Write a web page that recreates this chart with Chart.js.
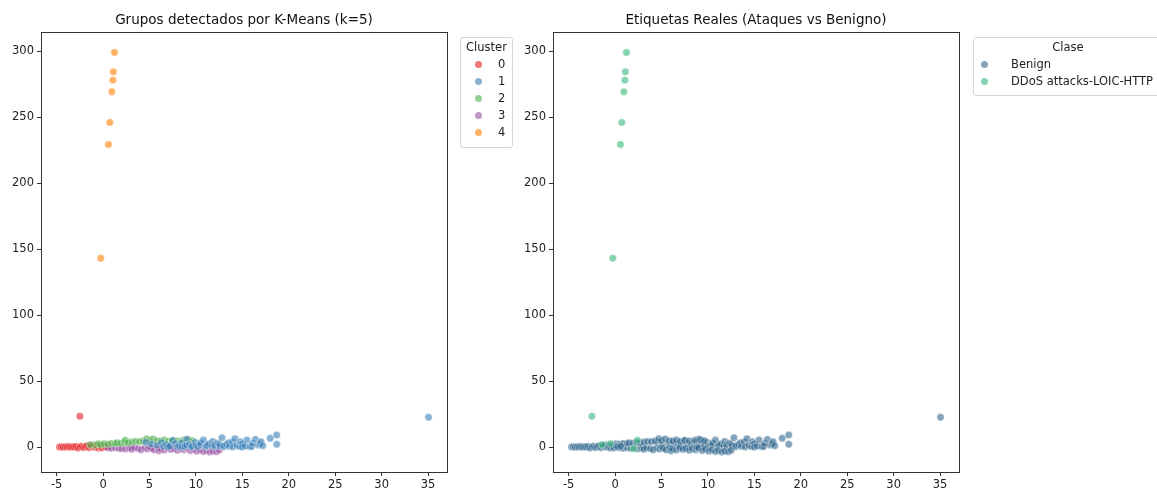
<!DOCTYPE html>
<html>
<head>
<meta charset="utf-8">
<script src="https://cdn.jsdelivr.net/npm/chart.js@4/dist/chart.umd.min.js"></script>
<style>
  html, body { margin:0; padding:0; background:#fff; width:1157px; height:493px; overflow:hidden; font-family:"DejaVu Sans", sans-serif; }
  canvas { position:absolute; top:0; }
  .legend { position:absolute; background:rgba(255,255,255,0.8); border:1px solid #d6d6d6; border-radius:3px; box-sizing:border-box; color:#222; font-size:11.5px; }
  .legend .ttl { position:absolute; left:0; right:0; text-align:center; }
  .legend .row { position:absolute; white-space:nowrap; }
  .legend .dot { position:absolute; width:7px; height:7px; border-radius:50%; }
</style>
</head>
<body>
<canvas id="left" width="488" height="493" style="left:0px;width:488px;height:493px"></canvas>
<canvas id="right" width="488" height="493" style="left:512px;width:488px;height:493px"></canvas>
<div id="legL" class="legend" style="left:460px;top:37px;width:53px;height:111px"></div>
<div id="legR" class="legend" style="left:973px;top:37px;width:190px;height:59px"></div>
<script>
// ---------- DATA ----------
const titleLeft = "Grupos detectados por K-Means (k=5)";
const titleRight = "Etiquetas Reales (Ataques vs Benigno)";
const clusterLegendTitle = "Cluster";
const classLegendTitle = "Clase";
const clusterNames = ["0", "1", "2", "3", "4"];
const classNames = ["Benign", "DDoS attacks-LOIC-HTTP"];
const xTicks = [-5, 0, 5, 10, 15, 20, 25, 30, 35];
const yTicks = [0, 50, 100, 150, 200, 250, 300];

// points: [x, y, classIndex]  (0 = Benign, 1 = DDoS attacks-LOIC-HTTP)
const cluster0 = [
  [-4.7,0.2,0],[-4.5,0.5,0],[-4.3,0.1,0],[-4.1,0.4,0],[-3.9,0.2,0],[-3.7,0.6,0],[-3.5,0.0,0],
  [-3.3,0.4,0],[-3.1,0.2,0],[-2.9,0.7,0],[-2.7,-0.6,0],[-2.5,0.3,0],[-2.3,0.9,0],[-2.1,-0.2,0],
  [-1.9,0.5,0],[-1.7,1.2,0],[-1.5,-0.4,0],[-1.3,0.8,0],[-1.1,1.5,0],[-0.9,0.0,0],[-0.7,1.0,0],
  [-0.5,-0.5,0],[-0.3,0.6,0],[-0.1,-0.3,0],[0.1,1.2,0],[0.3,0.2,0],[0.6,0.8,0],[-2.5,23.5,1]
];
const cluster1 = [
  [4.6,3.8,0],[5.2,2.5,0],[5.8,1.5,0],[6.3,3.5,0],[6.5,0.8,0],[6.8,2.0,0],[7.0,0.3,0],[7.2,1.0,0],
  [7.5,5.2,0],[7.8,2.8,0],[8.0,0.5,0],[8.2,1.2,0],[8.5,3.6,0],[8.5,0.2,0],[8.8,0.8,0],[9.0,6.2,0],
  [9.0,1.6,0],[9.3,2.2,0],[9.5,0.2,0],[9.6,1.0,0],[9.9,3.8,0],[10.0,1.4,0],[10.2,0.5,0],[10.5,1.8,0],
  [10.5,3.2,0],[10.8,5.5,0],[11.0,0.2,0],[11.1,0.9,0],[11.2,1.5,0],[11.4,2.6,0],[11.7,1.2,0],
  [11.8,4.5,0],[12.0,0.6,0],[12.0,1.8,0],[12.3,3.1,0],[12.5,2.3,0],[12.6,1.0,0],[12.8,7.2,0],
  [13.0,0.4,0],[13.0,1.2,0],[13.3,2.0,0],[13.5,3.4,0],[13.6,0.8,0],[13.9,4.0,0],[14.0,0.3,0],
  [14.2,6.5,0],[14.4,1.5,0],[14.7,0.6,0],[14.8,4.2,0],[15.0,2.8,0],[15.0,0.2,0],[15.3,1.0,0],
  [15.5,5.5,0],[15.8,0.5,0],[16.0,0.7,0],[16.1,3.0,0],[16.4,6.0,0],[16.7,1.8,0],[16.9,2.6,0],
  [17.0,4.3,0],[17.2,1.2,0],[18.0,6.8,0],[18.7,9.3,0],[18.7,2.3,0],[35.05,22.7,0]
];
const cluster2 = [
  [-0.9,1.8,0],[-1.4,2.0,1],[-0.5,2.8,1],[-0.3,2.0,0],[0.1,2.7,0],[0.5,2.4,0],[0.9,3.0,0],[1.3,2.8,0],
  [1.5,3.4,0],[1.9,3.1,0],[2.3,3.7,0],[2.4,5.3,1],[2.7,3.5,0],[3.1,4.0,0],[3.5,4.5,0],[3.9,4.2,0],
  [4.3,4.8,0],[4.7,6.5,0],[5.0,5.2,0],[5.4,6.4,0],[5.8,5.0,0],[6.2,4.8,0],[6.6,5.5,0],[7.0,4.5,0],
  [7.5,5.2,0],[8.0,4.9,0],[8.6,5.3,0],[9.2,5.8,0],[9.6,5.0,0]
];
const cluster3 = [
  [0.5,-0.3,0],[0.9,-0.8,0],[1.3,-0.2,0],[1.7,-1.0,0],[2.0,-1.0,1],[2.4,-1.2,0],[2.8,-0.6,0],
  [3.0,0.3,0],[3.1,-1.5,0],[3.4,-0.3,0],[3.8,-1.0,0],[4.1,-1.8,0],[4.5,-0.5,0],[4.8,-1.2,0],
  [5.0,0.1,0],[5.2,-0.8,0],[5.5,-1.9,0],[5.9,-0.4,0],[6.0,-2.6,0],[6.2,-1.3,0],[6.6,-2.0,0],
  [6.9,-0.7,0],[7.0,0.2,0],[7.3,-1.6,0],[7.6,-0.9,0],[8.0,-2.2,0],[8.3,-1.1,0],[8.7,-1.8,0],
  [8.8,0.0,0],[9.0,-0.6,0],[9.4,-2.5,0],[9.7,-1.4,0],[10.1,-2.9,0],[10.4,-1.9,0],[10.8,-3.2,0],
  [11.1,-2.4,0],[11.5,-3.5,0],[11.8,-2.8,0],[12.2,-3.3,0],[12.5,-2.2,0]
];
const cluster4 = [
  [1.22,299.0,1],[1.11,284.3,1],[1.05,278.0,1],[0.94,269.2,1],[0.72,246.0,1],[0.57,229.3,1],[-0.25,143.2,1]
];
const clusters = [cluster0, cluster1, cluster2, cluster3, cluster4];

// ---------- STYLE ----------
const clusterColors = ["rgba(228,26,28,0.6)", "rgba(55,126,184,0.6)", "rgba(77,175,74,0.6)", "rgba(152,78,163,0.6)", "rgba(255,127,0,0.6)"];
const classColors = ["rgba(49,104,142,0.6)", "rgba(53,183,121,0.6)"];
const edge = "rgba(255,255,255,0.6)";
const drawOrderClusters = [5, 1, 3, 4, 0]; // higher = drawn first (underneath)

Chart.defaults.font.family = "'DejaVu Sans', sans-serif";
Chart.defaults.color = "#222";

const framePlugin = {
  id: "frame",
  afterDraw(chart) {
    const a = chart.chartArea, ctx = chart.ctx;
    ctx.save();
    ctx.strokeStyle = "#333";
    ctx.lineWidth = 1;
    ctx.strokeRect(Math.round(a.left) + 0.5, Math.round(a.top) + 0.5, Math.round(a.right - a.left), Math.round(a.bottom - a.top));
    ctx.restore();
  }
};

function makeOptions(title) {
  return {
    responsive: false,
    animation: false,
    devicePixelRatio: 1,
    layout: { padding: { left: 0, right: 41, top: 0, bottom: 0 } },
    plugins: {
      legend: { display: false },
      tooltip: { enabled: false },
      title: { display: true, fullSize: false, text: title, color: "#111", font: { size: 13.5, weight: "normal" }, padding: { top: 12, bottom: 4 } }
    },
    scales: {
      x: {
        type: "linear", min: -6.69, max: 37.04,
        border: { display: false },
        grid: { display: true, drawOnChartArea: false, drawTicks: true, tickLength: 4, tickColor: "#333" },
        ticks: { font: { size: 11.5 }, color: "#222", padding: 2, maxRotation: 0 },
        afterBuildTicks(s) { s.ticks = xTicks.map(v => ({ value: v })); },
        afterFit(s) { s.height = 21; }
      },
      y: {
        type: "linear", min: -18.7, max: 314.3,
        border: { display: false },
        grid: { display: true, drawOnChartArea: false, drawTicks: true, tickLength: 4, tickColor: "#333" },
        ticks: { font: { size: 11.5 }, color: "#222", padding: 3 },
        afterBuildTicks(s) { s.ticks = yTicks.map(v => ({ value: v })); },
        afterFit(s) { s.width = 41; }
      }
    }
  };
}

const pt = p => ({ x: p[0], y: p[1] });

// Left chart: colored by cluster
new Chart(document.getElementById("left"), {
  type: "scatter",
  data: {
    datasets: clusters.map((c, i) => ({
      label: clusterNames[i],
      data: c.map(pt),
      order: drawOrderClusters[i],
      backgroundColor: clusterColors[i],
      borderColor: edge,
      borderWidth: 0.7,
      pointRadius: 3.7,
      pointHoverRadius: 3.7
    }))
  },
  options: makeOptions(titleLeft),
  plugins: [framePlugin]
});

// Right chart: colored by class
const allPoints = [cluster1, cluster3, cluster2, cluster0, cluster4].flat();
new Chart(document.getElementById("right"), {
  type: "scatter",
  data: {
    datasets: classNames.map((name, k) => ({
      label: name,
      data: allPoints.filter(p => p[2] === k).map(pt),
      order: k === 0 ? 2 : 1,
      backgroundColor: classColors[k],
      borderColor: edge,
      borderWidth: 0.7,
      pointRadius: 3.7,
      pointHoverRadius: 3.7
    }))
  },
  options: makeOptions(titleRight),
  plugins: [framePlugin]
});

// ---------- HTML legends ----------
function buildLegend(el, title, names, colors, dotLeft, textLeft, titleTop, rowTops) {
  let html = `<div class="ttl" style="top:${titleTop}px">${title}</div>`;
  names.forEach((n, i) => {
    html += `<div class="dot" style="left:${dotLeft}px;top:${rowTops[i] + 4}px;background:${colors[i]}"></div>`;
    html += `<div class="row" style="left:${textLeft}px;top:${rowTops[i]}px">${n}</div>`;
  });
  el.innerHTML = html;
}
buildLegend(document.getElementById("legL"), clusterLegendTitle, clusterNames, clusterColors, 14, 37, 2, [19, 36, 53, 70, 87]);
buildLegend(document.getElementById("legR"), classLegendTitle, classNames, classColors, 7, 37, 2, [19, 36]);
</script>
</body>
</html>
